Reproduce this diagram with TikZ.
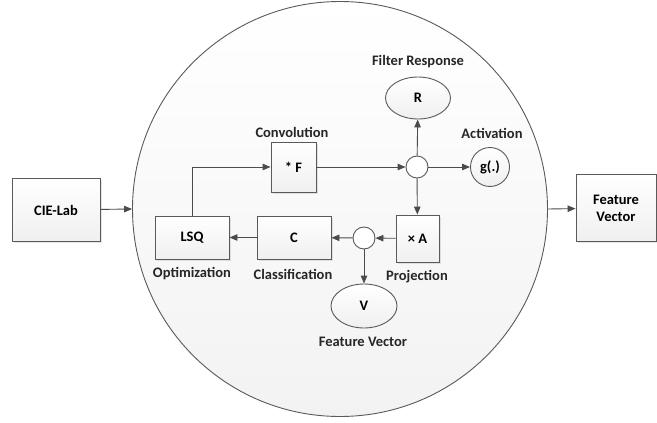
\documentclass[tikz,border=0pt]{standalone}
\usepackage{fontspec}
\setmainfont{Carlito}
\usepackage{xcolor}
\usetikzlibrary{arrows.meta,shadows,shapes.geometric}
\definecolor{lineclr}{RGB}{75, 75, 75}
\definecolor{edgeclr}{RGB}{90, 90, 90}

\begin{document}
\begin{tikzpicture}[x=1pt,y=-1pt,font=\bfseries\fontsize{14.5}{17}\selectfont,
    block/.style={draw=edgeclr,line width=0.9pt,top color=white,bottom color=gray!12,
        drop shadow={opacity=0.2,shadow xshift=1.5pt,shadow yshift=-1.5pt},
        inner sep=0pt,align=center},
    blob/.style={draw=edgeclr,line width=0.9pt,ellipse,top color=white,bottom color=gray!12,inner sep=0pt},
    junc/.style={draw=edgeclr,line width=0.9pt,circle,fill=white,minimum size=22pt,inner sep=0pt},
    flow/.style={draw=lineclr,line width=0.9pt,-{Triangle[length=8pt,width=6.5pt]}},
    lbl/.style={text=black!85}]
            \useasboundingbox (0,0) rectangle (657,423);
            % big circle
            \node[circle,draw=edgeclr,line width=0.9pt,top color=white,bottom color=gray!10,
                minimum size=415pt,inner sep=0pt] (net) at (340,209) {};

            \node[block,minimum width=88pt,minimum height=63pt] (lab) at (56,210) {CIE-Lab};
            \node[block,minimum width=80pt,minimum height=67pt] (fvec) at (616,208) {Feature\\Vector};

            \node[block,minimum width=45pt,minimum height=50pt] (conv) at (293.5,167) {* F};
            \node[junc] (j1) at (417,167) {};
            \node[blob,minimum width=65pt,minimum height=42pt] (resp) at (418,98) {R};
            \node[circle,draw=edgeclr,line width=0.9pt,top color=white,bottom color=gray!12,
                minimum size=39pt,inner sep=0pt] (act) at (490,167) {g(.)};
            \node[block,minimum width=43pt,minimum height=47pt] (proj) at (417.5,238.5) {× A};
            \node[junc] (j2) at (364,238) {};
            \node[block,minimum width=74pt,minimum height=43pt] (cls) at (294,237.5) {C};
            \node[block,minimum width=74pt,minimum height=43pt] (lsq) at (192,237.5) {LSQ};
            \node[blob,minimum width=66pt,minimum height=44pt] (vout) at (364,306) {V};

            \node[lbl] (convtxt) at (292,132) {Convolution};
            \node[lbl] (resptxt) at (418,62) {Filter Response};
            \node[lbl] (acttxt) at (492,133) {Activation};
            \node[lbl] (projtxt) at (417,277) {Projection};
            \node[lbl] (clstxt) at (293,274) {Classification};
            \node[lbl] (lsqtxt) at (192,274) {Optimization};
            \node[lbl] (vtxt) at (363,342) {Feature Vector};

            \draw[flow] (lab) -- (net.west);
            \draw[flow] (net.east) -- (fvec);
            \draw[flow] (conv) -- (j1);
            \draw[flow] (j1) -- (resp);
            \draw[flow] (j1) -- (act);
            \draw[flow] (j1) -- (proj);
            \draw[flow] (proj) -- (j2);
            \draw[flow] (j2) -- (cls);
            \draw[flow] (j2) -- (vout);
            \draw[flow] (cls) -- (lsq);
            \draw[flow] (lsq.north) |- (conv.west);
        \end{tikzpicture}
\end{document}
